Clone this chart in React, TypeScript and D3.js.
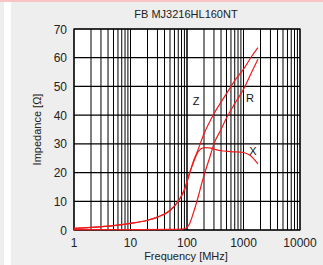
import React from 'react';
import * as d3 from 'd3';

const TITLE = 'FB MJ3216HL160NT';
const X_TICKS = [1, 10, 100, 1000, 10000];
const Y_TICKS = [0, 10, 20, 30, 40, 50, 60, 70];

// frequency [MHz] vs impedance [ohm]
const FREQ_Z = [1, 2, 5, 10, 20, 30, 50, 70, 90, 110, 130, 150, 200, 300, 500, 700, 1000, 1400, 1800];
const Z_VALS = [0.6, 0.9, 1.5, 2.3, 3.4, 4.5, 6.8, 10, 14, 19.5, 24, 27, 33.5, 40.5, 47.5, 52, 56, 60.5, 63.5];

const FREQ_R = [1, 10, 50, 80, 95, 110, 130, 150, 170, 200, 250, 300, 400, 500, 700, 1000, 1400, 1800];
const R_VALS = [0.1, 0.15, 0.2, 0.3, 0.6, 2, 6, 10, 14, 19, 25, 30, 35, 39, 44, 49, 55, 59.5];

const FREQ_X = [1, 2, 5, 10, 20, 30, 50, 70, 90, 110, 130, 160, 200, 250, 300, 400, 600, 1000, 1300, 1800];
const X_VALS = [0.6, 0.9, 1.5, 2.3, 3.4, 4.5, 6.8, 10, 14, 19.5, 23.5, 27.5, 28.7, 28.6, 28.2, 27.6, 27.3, 27, 26, 23];

const W = 323;
const H = 265;
const M = { left: 74, right: 300, top: 29, bottom: 230 };

export default function App() {
  const x = d3.scaleLog().domain([1, 10000]).range([M.left, M.right]);
  const y = d3.scaleLinear().domain([0, 70]).range([M.bottom, M.top]);

  const minor: number[] = [];
  for (let d = 1; d < 10000; d *= 10) {
    for (let k = 1; k <= 10; k++) minor.push(d * k);
  }

  const mk = (fs: number[], vs: number[]) =>
    d3
      .line<number>()
      .x((_, i) => x(fs[i]))
      .y((v) => y(v))
      .curve(d3.curveMonotoneX)(vs) || '';

  const font = 'Liberation Sans, Arial, sans-serif';
  const red = '#ee1c1c';

  return (
    <svg
      width={W}
      height={H}
      style={{ position: 'absolute', left: 0, top: 0, display: 'block' }}
      fontFamily={font}
    >
      <rect x={0} y={0} width={W} height={H} fill="#eeeeee" />
      <rect x={4} y={0} width={7} height={H} fill="#ffffff" />
      <rect x={0} y={0} width={W} height={2} fill="#f8c4c4" />

      <text x={186} y={18} textAnchor="middle" fontSize={11} fill="#222">
        {TITLE}
      </text>

      <rect x={M.left} y={M.top} width={M.right - M.left} height={M.bottom - M.top} fill="#fff" />

      {minor.map((f) => (
        <line key={'v' + f} x1={x(f)} x2={x(f)} y1={M.top} y2={M.bottom} stroke="#000" strokeWidth={1} />
      ))}
      {Y_TICKS.map((v) => (
        <line key={'h' + v} x1={M.left} x2={M.right} y1={y(v)} y2={y(v)} stroke="#000" strokeWidth={1.2} />
      ))}
      <rect
        x={M.left}
        y={M.top}
        width={M.right - M.left}
        height={M.bottom - M.top}
        fill="none"
        stroke="#000"
        strokeWidth={1.2}
      />

      {Y_TICKS.map((v) => (
        <text key={'yl' + v} x={67} y={y(v) + 4.5} textAnchor="end" fontSize={12} fill="#222">
          {v}
        </text>
      ))}
      {X_TICKS.map((f) => (
        <text key={'xl' + f} x={x(f)} y={247} textAnchor="middle" fontSize={12} fill="#222">
          {f}
        </text>
      ))}

      <text x={186} y={260} textAnchor="middle" fontSize={11} fill="#222">
        Frequency [MHz]
      </text>
      <text
        transform={`translate(${41},${y(35)}) rotate(-90)`}
        textAnchor="middle"
        fontSize={11}
        fill="#222"
      >
        Impedance [Ω]
      </text>

      <g fill="none" stroke={red} strokeWidth={1.2}>
        <path d={mk(FREQ_R, R_VALS)} />
        <path d={mk(FREQ_X, X_VALS)} />
        <path d={mk(FREQ_Z, Z_VALS)} />
      </g>

      <text x={196} y={105} textAnchor="middle" fontSize={11} fill="#111">Z</text>
      <text x={250} y={102} textAnchor="middle" fontSize={11} fill="#111">R</text>
      <text x={253} y={155} textAnchor="middle" fontSize={11} fill="#111">X</text>
    </svg>
  );
}
